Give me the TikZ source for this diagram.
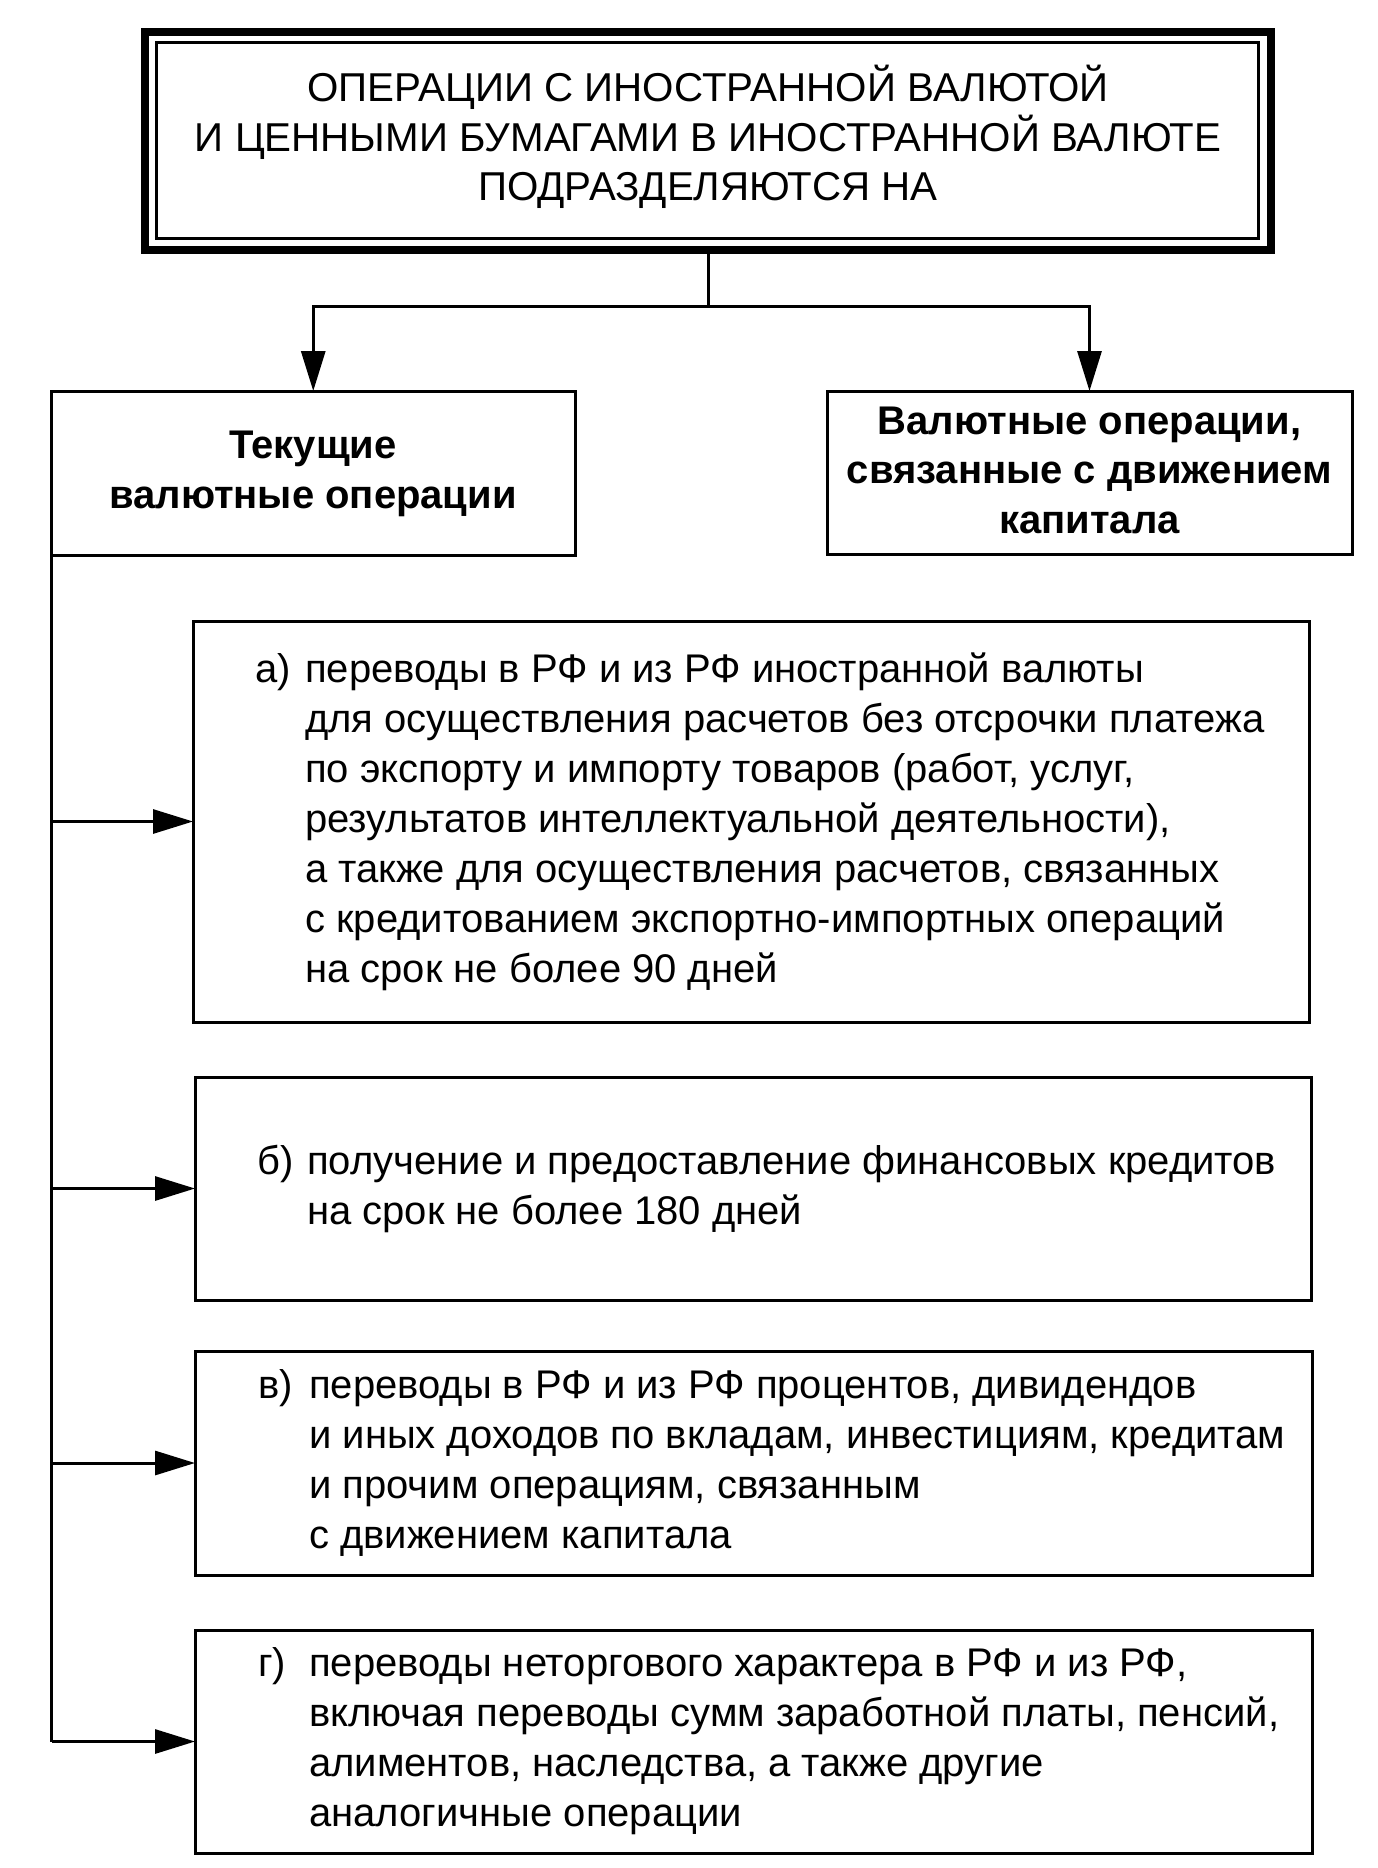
\documentclass[tikz,border=0pt]{standalone}
\usepackage{fontspec}
\setmainfont{Liberation Sans}
\usetikzlibrary{arrows.meta}
\begin{document}
\begin{tikzpicture}[x=1pt,y=-1pt,
  box/.style={draw, line width=3pt, inner sep=0pt, outer sep=0pt},
  boldtext/.style={align=center, inner sep=0pt, font=\bfseries\fontsize{40}{49.5}\selectfont},
  conn/.style={line width=3pt, -{Triangle[length=40pt,width=24pt]}},
  plain/.style={line width=3pt},
  body/.style={font=\fontsize{40}{50}\selectfont, inner sep=0pt, anchor=west, align=left},
]
\useasboundingbox (0,0) rectangle (1377,1868);
% top box
\node[draw, line width=8pt, inner sep=0pt, outer sep=0pt, minimum width=1126pt, minimum height=218pt] (topo) at (708,141) {};
\node[box, minimum width=1102pt, minimum height=195.5pt] (topi) at (707.5,140.75) {};
\node[align=center, inner sep=0pt, font=\fontsize{40.3}{49.5}\selectfont] (tt) at (708,137)
  {ОПЕРАЦИИ С ИНОСТРАННОЙ ВАЛЮТОЙ\\И ЦЕННЫМИ БУМАГАМИ В ИНОСТРАННОЙ ВАЛЮТЕ\\ПОДРАЗДЕЛЯЮТСЯ НА};
% second level
\node[box, minimum width=523.5pt, minimum height=164pt] (cur) at (313.25,473) {};
\node[box, minimum width=525pt, minimum height=163pt] (cap) at (1089.5,472.5) {};
\node[boldtext] (tcur) at (313,474) {Текущие\\валютные операции};
\node[boldtext] (tcap) at (1089.5,470) {Валютные операции,\\связанные с движением\\капитала};
% detail boxes
\node[box, minimum width=1116pt, minimum height=401pt] (a) at (751,821.5) {};
\node[box, minimum width=1116pt, minimum height=223pt] (b) at (753,1188.5) {};
\node[box, minimum width=1117pt, minimum height=224pt] (v) at (753.5,1463) {};
\node[box, minimum width=1117pt, minimum height=223pt] (g) at (753.5,1741.5) {};
% texts
\node[body] (ta) at (255,821.5) {%
\makebox[50pt][l]{а)}переводы в РФ и из РФ иностранной валюты\\
\hspace*{50pt}для осуществления расчетов без отсрочки платежа\\
\hspace*{50pt}по экспорту и импорту товаров (работ, услуг,\\
\hspace*{50pt}результатов интеллектуальной деятельности),\\
\hspace*{50pt}а также для осуществления расчетов, связанных\\
\hspace*{50pt}с кредитованием экспортно-импортных операций\\
\hspace*{50pt}на срок не более 90 дней};
\node[body] (tb) at (257,1188.5) {%
\makebox[50pt][l]{б)}получение и предоставление финансовых кредитов\\
\hspace*{50pt}на срок не более 180 дней};
\node[body] (tv) at (258,1463) {%
\makebox[51pt][l]{в)}переводы в РФ и из РФ процентов, дивидендов\\
\hspace*{51pt}и иных доходов по вкладам, инвестициям, кредитам\\
\hspace*{51pt}и прочим операциям, связанным\\
\hspace*{51pt}с движением капитала};
\node[body] (tg) at (258,1741.5) {%
\makebox[51pt][l]{г)}переводы неторгового характера в РФ и из РФ,\\
\hspace*{51pt}включая переводы сумм заработной платы, пенсий,\\
\hspace*{51pt}алиментов, наследства, а также другие\\
\hspace*{51pt}аналогичные операции};
% connectors
\coordinate (j) at (708,306);
\draw[plain] (topo.south) -- (j);
\draw[conn] (j) -| (cur.north);
\draw[conn] (j) -| (cap.north);
\draw[plain] (cur.south west) -- (cur.south west |- g.west);
\draw[conn] (cur.south west |- a.west) -- (a.west);
\draw[conn] (cur.south west |- b.west) -- (b.west);
\draw[conn] (cur.south west |- v.west) -- (v.west);
\draw[conn] (cur.south west |- g.west) -- (g.west);
\end{tikzpicture}
\end{document}
